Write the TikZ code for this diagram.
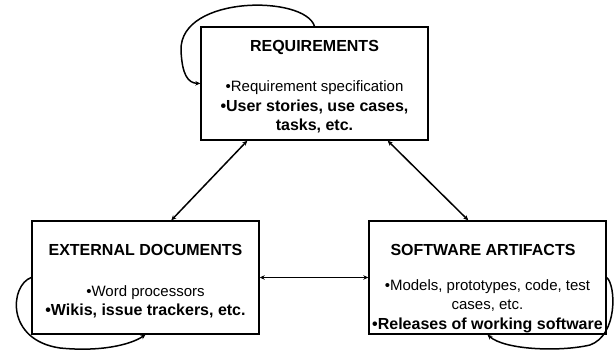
\documentclass[tikz,border=0pt]{standalone}
\usepackage{fontspec}
\setmainfont{Liberation Sans}
\usetikzlibrary{arrows.meta}

\newcommand{\bolditem}[1]{{\fontsize{16}{19.5}\selectfont\bfseries #1}}

\tikzset{
  box/.style = {draw, line width = 1.4pt, minimum height = 113pt, inner sep = 0pt},
  heading/.style = {inner sep = 0pt, font = \fontsize{16}{19}\selectfont\bfseries},
  items/.style = {inner sep = 0pt, align = center, font = \fontsize{15}{19.5}\selectfont},
  twoway/.style = {line width = 1.5pt, {Stealth[length = 5pt, width = 4.5pt]}-{Stealth[length = 5pt, width = 4.5pt]}},
  selfloop/.style = {line width = 1.5pt, -{Stealth[length = 5pt, width = 4.5pt]}}
}

\begin{document}
\begin{tikzpicture}[x = 1pt, y = -1pt]
  \useasboundingbox (0, 0) rectangle (614, 352);

  % the three boxes
  \node[box, minimum width = 227pt] (req) at (314.5, 83.5) {};
  \node[box, minimum width = 227pt] (ext) at (145.5, 277.5) {};
  \node[box, minimum width = 237pt] (sa) at (487.5, 277.5) {};

  \node[heading] (reqtitle) at (314.5, 47) {REQUIREMENTS};
  \node[items] (reqitems) at (314.5, 107) {\textbullet Requirement specification\\
    \bolditem{\textbullet User stories, use cases,}\\ \bolditem{tasks, etc.}};

  \node[heading] (exttitle) at (145.5, 250) {EXTERNAL DOCUMENTS};
  \node[items] (extitems) at (145.5, 302) {\textbullet Word processors\\
    \bolditem{\textbullet Wikis, issue trackers, etc.}};

  \node[heading] (satitle) at (483, 250) {SOFTWARE ARTIFACTS};
  \node[items] (saitems) at (487.5, 306) {\textbullet Models, prototypes, code, test\\
    cases, etc.\\ \bolditem{\textbullet Releases of working software}};

  % arrows between the boxes
  \draw[twoway] ([xshift = 47pt]req.south west) -- ([xshift = 140pt]ext.north west);
  \draw[twoway] ([xshift = -41pt]req.south east) -- ([xshift = 100pt]sa.north west);
  \draw[twoway] (ext.east) -- (sa.west);

  % loops back into the same box
  \draw[selfloop] (req.north) .. controls (305, -5) and (180, -5) .. (181, 50)
    .. controls (182, 75) and (188, 83) .. (req.west);
  \draw[selfloop] (ext.west) .. controls (10, 285) and (5, 340) .. (60, 348)
    .. controls (100, 352) and (130, 345) .. (ext.south);
  \draw[selfloop] (sa.east) .. controls (616, 285) and (618, 335) .. (590, 345)
    .. controls (560, 352) and (505, 350) .. (sa.south);
\end{tikzpicture}
\end{document}
